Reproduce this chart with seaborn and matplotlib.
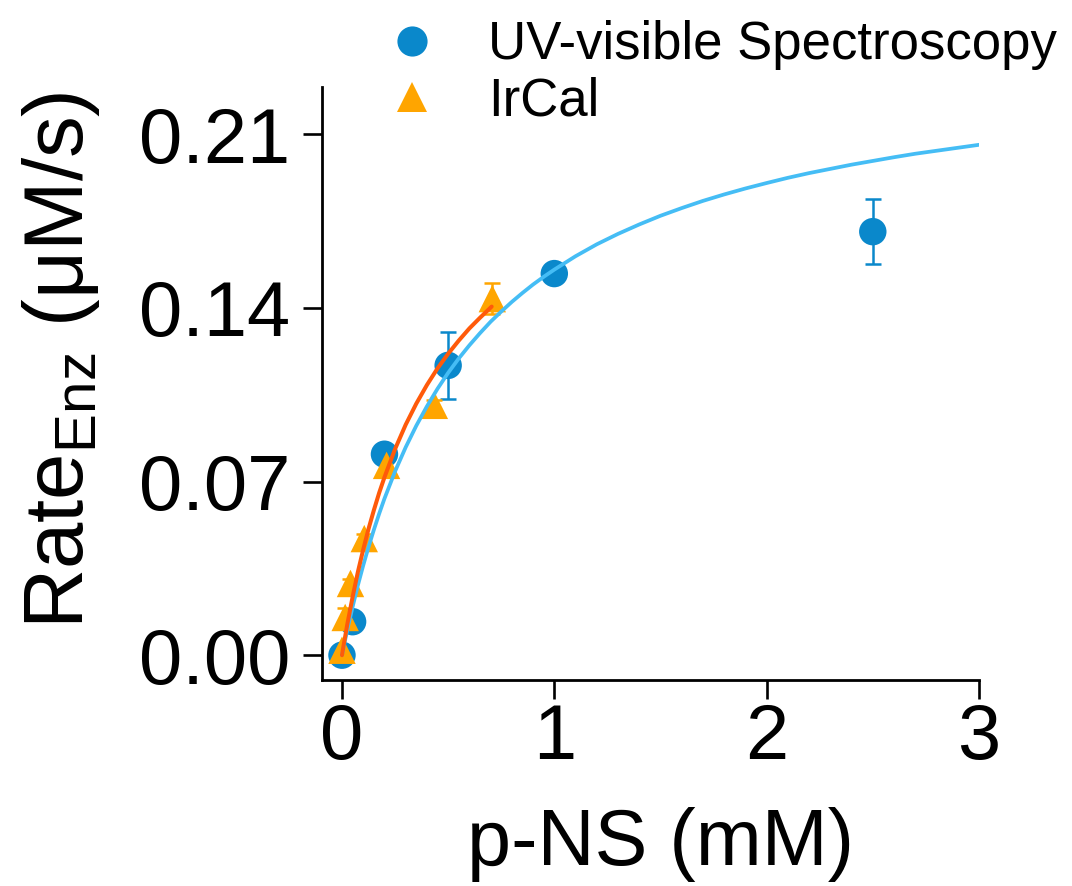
import numpy as np
import pandas as pd
import seaborn as sns
import matplotlib.pyplot as plt

# measured points
uv_x = [0.0, 0.05, 0.2, 0.5, 1.0, 2.5]
uv_rate = [0.0, 0.0135, 0.081, 0.1168, 0.1538, 0.1707]
uv_err = [0.0, 0.002, 0.003, 0.0136, 0.003, 0.013]

ir_x = [0.0, 0.015, 0.04, 0.105, 0.21, 0.435, 0.708]
ir_rate = [0.002, 0.0152, 0.0289, 0.047, 0.0765, 0.1007, 0.1437]
ir_err = [0.001, 0.004, 0.002, 0.002, 0.002, 0.002, 0.0062]

# fitted curves
uv_fit_x = [0, 0.01, 0.02, 0.03, 0.05, 0.075, 0.1, 0.125, 0.15, 0.175, 0.2,
            0.25, 0.3, 0.35, 0.4, 0.45, 0.5, 0.55, 0.6, 0.65, 0.7, 0.75, 0.8,
            0.85, 0.9, 0.95, 1.0, 1.1, 1.2, 1.3, 1.4, 1.5, 1.6, 1.7, 1.8, 1.9,
            2.0, 2.1, 2.2, 2.3, 2.4, 2.5, 2.6, 2.7, 2.8, 2.9, 3.0]
uv_fit_y = [0, 0.0042, 0.0082, 0.0121, 0.0195, 0.0282, 0.0362, 0.0436, 0.0505,
            0.0570, 0.0631, 0.0741, 0.0838, 0.0925, 0.1003, 0.1074, 0.1138,
            0.1196, 0.1249, 0.1298, 0.1344, 0.1385, 0.1424, 0.1460, 0.1494,
            0.1525, 0.1554, 0.1608, 0.1656, 0.1698, 0.1736, 0.1771, 0.1802,
            0.1831, 0.1857, 0.1881, 0.1903, 0.1924, 0.1943, 0.1960, 0.1977,
            0.1992, 0.2007, 0.2021, 0.2033, 0.2045, 0.2057]

ir_fit_x = [0, 0.01, 0.025, 0.05, 0.075, 0.1, 0.125, 0.15, 0.175, 0.2, 0.25,
            0.3, 0.35, 0.4, 0.45, 0.5, 0.55, 0.6, 0.65, 0.705]
ir_fit_y = [0, 0.0051, 0.0124, 0.0235, 0.0336, 0.0426, 0.0509, 0.0584, 0.0654,
            0.0717, 0.0831, 0.0929, 0.1014, 0.1089, 0.1156, 0.1215, 0.1268,
            0.1317, 0.1360, 0.1405]

labels = ['UV-visible Spectroscopy', 'IrCal']
dot_colors = ['#0A88CB', '#FFA500']
line_colors = ['#45BDF5', '#FF5A0A']

sns.set_style('ticks')
plt.rcParams['font.family'] = ['Liberation Sans', 'DejaVu Sans']
plt.rcParams['mathtext.default'] = 'regular'
for k in ['text.color', 'axes.labelcolor', 'xtick.color', 'ytick.color',
          'axes.edgecolor']:
    plt.rcParams[k] = 'black'

df = pd.concat([
    pd.DataFrame({'conc': uv_x, 'rate': uv_rate, 'err': uv_err, 'method': labels[0]}),
    pd.DataFrame({'conc': ir_x, 'rate': ir_rate, 'err': ir_err, 'method': labels[1]}),
])

fig = plt.figure(figsize=(10.72, 8.86), dpi=100)
ax = fig.add_axes([0.3004, 0.2325, 0.6128, 0.6693])

for lab, col in zip(labels, dot_colors):
    d = df[df['method'] == lab]
    ax.errorbar(d['conc'], d['rate'], yerr=d['err'], fmt='none', ecolor=col,
                elinewidth=1.8, capsize=6, capthick=1.8, zorder=1)

sns.scatterplot(data=df, x='conc', y='rate', hue='method', style='method',
                markers={labels[0]: 'o', labels[1]: '^'},
                palette=dict(zip(labels, dot_colors)), s=390, linewidth=0,
                ax=ax, zorder=2)
sns.lineplot(x=uv_fit_x, y=uv_fit_y, color=line_colors[0], lw=2.7, ax=ax,
             zorder=3, sort=False)
sns.lineplot(x=ir_fit_x, y=ir_fit_y, color=line_colors[1], lw=2.9, ax=ax,
             zorder=4, sort=False)

ax.set_xlim(-0.094, 3.0)
ax.set_ylim(-0.010, 0.229)
ax.set_xticks([0, 1, 2, 3])
ax.set_yticks([0, 0.07, 0.14, 0.21])
ax.set_yticklabels([f'{v:.2f}' for v in [0, 0.07, 0.14, 0.21]])
ax.tick_params(axis='both', length=14, width=1.9, labelsize=56, color='black')
ax.tick_params(axis='y', pad=9)
ax.tick_params(axis='x', pad=2)
for s in ['left', 'bottom']:
    ax.spines[s].set_linewidth(2.0)
sns.despine(ax=ax)

ax.set_xlabel('p-NS (mM)', fontsize=57)
ax.set_ylabel(r'Rate$_{Enz}$ (μM/s)', fontsize=60)
ax.xaxis.set_label_coords(0.5145, -0.214)
ax.yaxis.set_label_coords(-0.335, 0.54)

sns.move_legend(ax, 'upper left', bbox_to_anchor=(386 / 1072, 1 - 20 / 886),
                bbox_transform=fig.transFigure, frameon=False, title=None,
                fontsize=38, handlelength=1.0, handletextpad=0.93,
                borderpad=0, borderaxespad=0, labelspacing=0.12,
                markerscale=1.1)

fig.savefig('out.png', dpi=100)
